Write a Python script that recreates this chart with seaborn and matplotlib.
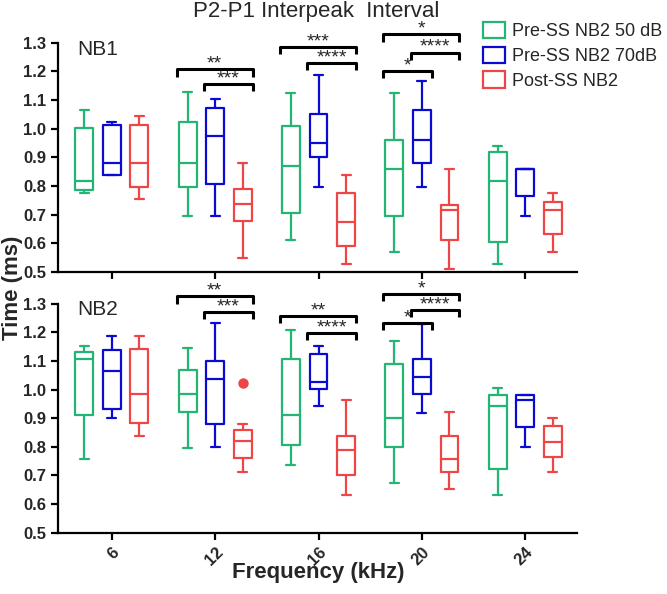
import numpy as np
import pandas as pd
import seaborn as sns
import matplotlib.pyplot as plt
from matplotlib.patches import Patch

# -----------------------------------------------------
# data: [min, q1, median, q3, max] per frequency
# -----------------------------------------------------
FREQS = ["6", "12", "16", "20", "24"]
GROUPS = ["Pre-SS NB2 50 dB", "Pre-SS NB2 70dB", "Post-SS NB2"]
COLORS = ["#22B573", "#0A0AD2", "#EE4646"]

NB1_50DB = [[0.776, 0.785, 0.818, 1.003, 1.065],
            [0.695, 0.797, 0.880, 1.023, 1.128],
            [0.613, 0.706, 0.870, 1.009, 1.123],
            [0.571, 0.695, 0.859, 0.960, 1.125],
            [0.529, 0.604, 0.818, 0.919, 0.940]]
NB1_70DB = [[0.839, 0.839, 0.880, 1.012, 1.023],
            [0.695, 0.808, 0.973, 1.074, 1.104],
            [0.797, 0.902, 0.952, 1.050, 1.186],
            [0.797, 0.881, 0.962, 1.066, 1.167],
            [0.695, 0.767, 0.859, 0.859, 0.859]]
NB1_POST = [[0.755, 0.797, 0.880, 1.012, 1.044],
            [0.550, 0.678, 0.737, 0.791, 0.880],
            [0.529, 0.590, 0.675, 0.776, 0.839],
            [0.511, 0.613, 0.716, 0.735, 0.859],
            [0.571, 0.632, 0.716, 0.746, 0.776]]

NB2_50DB = [[0.757, 0.910, 1.106, 1.130, 1.151],
            [0.796, 0.922, 0.983, 1.068, 1.146],
            [0.736, 0.808, 0.910, 1.106, 1.209],
            [0.675, 0.801, 0.900, 1.088, 1.168],
            [0.633, 0.724, 0.942, 0.982, 1.004]]
NB2_70DB = [[0.899, 0.931, 1.066, 1.137, 1.188],
            [0.799, 0.878, 1.036, 1.098, 1.231],
            [0.941, 1.003, 1.025, 1.123, 1.151],
            [0.919, 0.984, 1.045, 1.108, 1.229],
            [0.799, 0.870, 0.964, 0.982, 0.982]]
NB2_POST = [[0.838, 0.883, 0.983, 1.141, 1.188],
            [0.713, 0.761, 0.820, 0.859, 0.878],
            [0.633, 0.701, 0.789, 0.839, 0.964],
            [0.653, 0.713, 0.758, 0.838, 0.921],
            [0.713, 0.766, 0.818, 0.871, 0.901]]

# outliers: panel, frequency, group, value
OUT_PANEL = ["NB2"]
OUT_FREQ = ["12"]
OUT_GROUP = ["Post-SS NB2"]
OUT_VALUE = [1.022]

# significance brackets: panel, frequency, group a, group b, height, label
SIG_PANEL = ["NB1"] * 7 + ["NB2"] * 7
SIG_FREQ = ["12", "12", "16", "16", "20", "20", "20",
            "12", "12", "16", "16", "20", "20", "20"]
SIG_A = [0, 1, 0, 1, 0, 1, 0, 0, 1, 0, 1, 0, 1, 0]
SIG_B = [2, 2, 2, 2, 2, 2, 1, 2, 2, 2, 2, 2, 2, 1]
SIG_Y = [1.207, 1.156, 1.286, 1.230, 1.329, 1.266, 1.202,
         1.325, 1.270, 1.258, 1.198, 1.334, 1.277, 1.232]
SIG_TEXT = ["**", "***", "***", "****", "*", "****", "*",
            "**", "***", "**", "****", "*", "****", "*"]

PANELS = {"NB1": [NB1_50DB, NB1_70DB, NB1_POST],
          "NB2": [NB2_50DB, NB2_70DB, NB2_POST]}

sns.set_style("ticks")
plt.rcParams["font.family"] = ["Liberation Sans", "DejaVu Sans"]

fig = plt.figure(figsize=(6.67, 5.94), dpi=100)
ax_top = fig.add_axes([0.087, 0.542, 0.778, 0.386])
ax_bot = fig.add_axes([0.087, 0.103, 0.778, 0.386])

WIDTH = 0.8
offsets = np.linspace(0, WIDTH - WIDTH / 3, 3)
offsets -= offsets.mean()
half_box = WIDTH / 3 * 0.65 / 2

for name, ax in [("NB1", ax_top), ("NB2", ax_bot)]:
    rows = []
    for g, series in zip(GROUPS, PANELS[name]):
        for f, stats in zip(FREQS, series):
            for v in stats:
                rows.append({"freq": f, "group": g, "value": v})
    df = pd.DataFrame(rows)

    sns.boxplot(data=df, x="freq", y="value", hue="group",
                order=FREQS, hue_order=GROUPS, palette=COLORS,
                fill=False, whis=(0, 100), width=WIDTH, gap=0.35,
                linewidth=1.6, legend=False, ax=ax)

    out = pd.DataFrame({"freq": OUT_FREQ, "group": OUT_GROUP,
                        "value": OUT_VALUE})[np.array(OUT_PANEL) == name]
    if len(out):
        sns.stripplot(data=out, x="freq", y="value", hue="group",
                      order=FREQS, hue_order=GROUPS, palette=COLORS,
                      dodge=True, jitter=False, size=7.5, legend=False, ax=ax)

    # significance brackets
    for p, f, a, b, y, txt in zip(SIG_PANEL, SIG_FREQ, SIG_A, SIG_B, SIG_Y, SIG_TEXT):
        if p != name:
            continue
        xi = FREQS.index(f)
        x0 = xi + offsets[a] - half_box - 0.02
        x1 = xi + offsets[b] + half_box + 0.01
        tick = 0.025
        ax.plot([x0, x0, x1, x1], [y - tick, y, y, y - tick],
                color="black", lw=2.2, clip_on=False, solid_capstyle="butt")
        ax.text((x0 + x1) / 2, y - 0.012, txt, ha="center", va="bottom",
                fontsize=14, clip_on=False)

    ax.set_ylim(0.5, 1.3)
    ax.set_xlim(-0.52, 4.5)
    ax.set_yticks(np.arange(0.5, 1.31, 0.1))
    ax.set_yticklabels([f"{t:.1f}" for t in np.arange(0.5, 1.31, 0.1)],
                       fontsize=12, fontweight="bold")
    ax.set_xlabel("")
    ax.set_ylabel("")
    ax.tick_params(axis="both", length=5, width=1.6, color="black")
    for s in ["left", "bottom"]:
        ax.spines[s].set_linewidth(1.6)
        ax.spines[s].set_color("black")
    sns.despine(ax=ax)
    ax.text(0.038, 0.972, name, transform=ax.transAxes, va="center",
            ha="left", fontsize=15)

ax_top.tick_params(axis="x", labelbottom=False)
ax_bot.set_xticks(range(len(FREQS)))
ax_bot.set_xticklabels(FREQS, rotation=45, ha="right", rotation_mode="anchor",
                       fontsize=12, fontweight="bold")

fig.text(0.474, 0.981, "P2-P1 Interpeak  Interval", ha="center", va="center",
         fontsize=16)
fig.text(0.018, 0.515, "Time (ms)", rotation=90, ha="center", va="center",
         fontsize=16, fontweight="bold")
fig.text(0.477, 0.037, "Frequency (kHz)", ha="center", va="center",
         fontsize=16, fontweight="bold")

handles = [Patch(facecolor="none", edgecolor=c, linewidth=1.6) for c in COLORS]
fig.legend(handles, GROUPS, loc="upper left", bbox_to_anchor=(0.70, 0.99),
           frameon=False, fontsize=13, handlelength=1.2, handleheight=1.0,
           handletextpad=0.4, labelspacing=0.35)

plt.savefig("out.png", dpi=100)
plt.close()
